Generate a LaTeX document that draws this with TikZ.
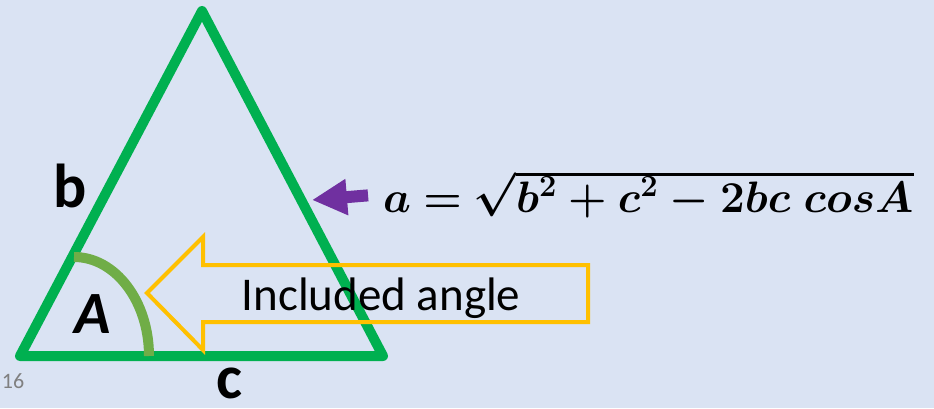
\documentclass[tikz,border=0pt]{standalone}
\usepackage{fix-cm}
\usepackage{bm}
\usepackage[no-math]{fontspec}
\newfontfamily\calibri{Carlito}
\usetikzlibrary{arrows.meta}
\definecolor{bgblue}{HTML}{DAE3F3}
\definecolor{trigreen}{HTML}{00B050}
\definecolor{arcgreen}{HTML}{70AD47}
\definecolor{inclyellow}{HTML}{FFC000}
\definecolor{ptrpurple}{HTML}{7030A0}
\begin{document}
\begin{tikzpicture}[x=1pt,y=1pt,
  side/.style={line width=10pt,trigreen,line join=round,line cap=round},
  anglearc/.style={line width=10pt,arcgreen},
  inclarrow/.style={line width=4pt,inclyellow,line join=miter},
  pointer/.style={line width=12pt,ptrpurple,-{Triangle[length=35pt,width=34pt]}},
  lbl/.style={font=\calibri\bfseries\fontsize{62}{70}\selectfont,inner sep=0pt}]
\fill[bgblue] (0,0) rectangle (934,408);
\useasboundingbox (0,0) rectangle (934,408);
% triangle
\coordinate (B) at (20,52); \coordinate (C) at (383,52); \coordinate (T) at (202,397);
\draw[side] (B)--(C)--(T)--cycle;
\draw[anglearc] (74,151) arc[start angle=90,end angle=0,x radius=75,y radius=99];
% included angle arrow
\draw[inclarrow] (147,115)--(203,171)--(203,143)--(588,143)--(588,86)--(203,86)--(203,58)--cycle;
\node[font=\calibri\fontsize{47}{56}\selectfont,inner sep=0pt,anchor=base] (incl) at (381,98) {Included angle};
% labels
\node[lbl,anchor=base] (lb) at (70,201) {b};
\node[lbl,anchor=base] (lc) at (229,10) {c};
\node[lbl,font=\calibri\bfseries\itshape\fontsize{60}{70}\selectfont,anchor=base] (lA) at (93,75) {A};
\node[font=\calibri\fontsize{22}{24}\selectfont,text=gray,inner sep=0pt,anchor=base] (num) at (13,20) {16};
% law of cosines
\node[inner sep=0pt,anchor=base west,font=\fontsize{44}{54}\selectfont] (frm) at (383,196) {$\bm{a=\sqrt{b^2+c^2-2bc\ cosA}}$};
\coordinate (aTip) at (312,208);
\draw[pointer,shorten <=15pt] (frm.west)--(aTip);
\end{tikzpicture}
\end{document}
